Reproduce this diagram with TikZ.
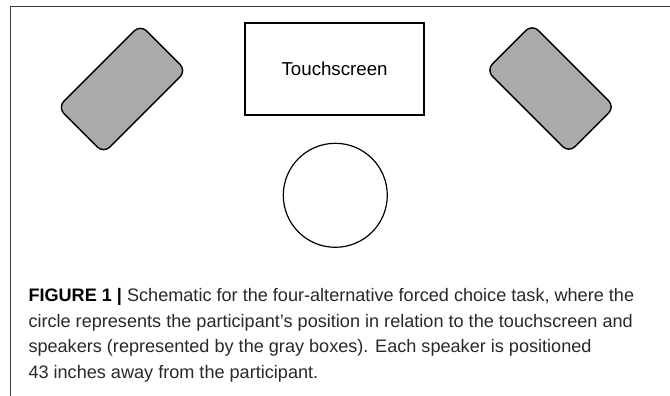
\documentclass[tikz,border=0pt]{standalone}
\usepackage{fontspec}
\setmainfont{Liberation Sans}
\definecolor{spkgray}{RGB}{170,170,170}
\definecolor{frmgray}{RGB}{60,60,60}
\definecolor{captxt}{RGB}{40,40,40}
\begin{document}
\begin{tikzpicture}[x=1pt,y=-1pt,
  speaker/.style={draw=black,line width=1.4pt,fill=spkgray,rounded corners=9pt,minimum width=117pt,minimum height=65pt,inner sep=0pt},
  screen/.style={draw=black,line width=1.4pt,minimum width=179pt,minimum height=92pt,inner sep=0pt,font=\fontsize{18.7}{22}\selectfont},
  person/.style={draw=black,line width=1.2pt,circle,minimum size=104pt,inner sep=0pt},
  capline/.style={anchor=base west,inner sep=0pt,text=captxt,font=\fontsize{18.1}{21}\selectfont}
]
\useasboundingbox (0,0) rectangle (670,396);
\coordinate (fl) at (10.7,396);
\coordinate (ftl) at (10.7,6.7);
\coordinate (fr) at (670,6.7);
\draw[line width=0.9pt,draw=frmgray] (fl) -- (ftl) -- (fr);
\node[screen] (ts) at (334.6,69.2) {Touchscreen};
\node[speaker,rotate=45] (spl) at (122,89) {};
\node[speaker,rotate=-45] (spr) at (550.5,88.5) {};
\node[person] (p) at (335.3,195.3) {};
\node[capline] (c1) at (28.3,301.7) {\textcolor{black}{\textbf{FIGURE 1 |}} Schematic for the four-alternative forced choice task, where the};
\node[capline] (c2) at (28.3,327.2) {circle represents the participant’s position in relation to the touchscreen and};
\node[capline] (c3) at (28.3,352.7) {speakers (represented by the gray boxes). Each speaker is positioned};
\node[capline] (c4) at (28.3,378.2) {43 inches away from the participant.};
\end{tikzpicture}
\end{document}
